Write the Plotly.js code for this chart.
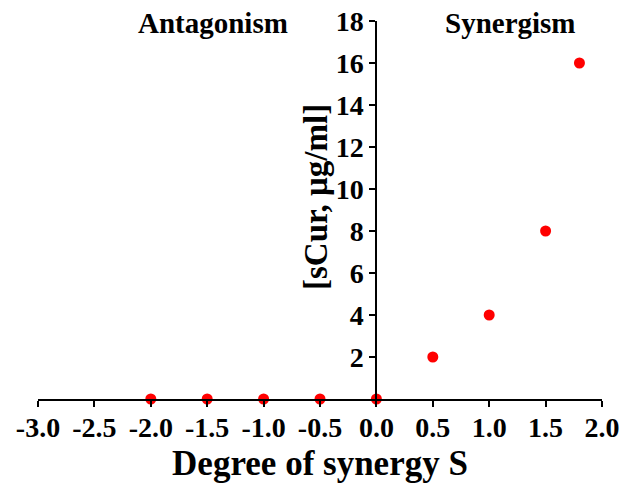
<!DOCTYPE html>
<html><head><meta charset="utf-8">
<script src="https://cdn.plot.ly/plotly-3.0.1.min.js"></script>
<style>html,body{margin:0;padding:0;background:#fff}#chart{width:624px;height:485px}</style>
</head><body><div id="chart"></div>
<script>
const degreeS = [-2.0, -1.5, -1.0, -0.5, 0.0, 0.5, 1.0, 1.5, 1.8];
const sCur = [0, 0, 0, 0, 0, 2, 4, 8, 16];
const xTicks = [-3.0, -2.5, -2.0, -1.5, -1.0, -0.5, 0.0, 0.5, 1.0, 1.5, 2.0];
const yTicks = [2, 4, 6, 8, 10, 12, 14, 16, 18];
const regionLabels = ["Antagonism", "Synergism"];
const regionX = [-1.449, 1.19];
const yTitle = "[sCur, μg/ml]";

const fam = "'Liberation Serif', 'Times New Roman', serif";
const trace = {
  x: degreeS, y: sCur, type: "scatter", mode: "markers",
  marker: {color: "#ff0000", size: 11},
  cliponaxis: false, showlegend: false, hoverinfo: "none"
};
const annotations = regionLabels.map((t, i) => ({
  text: "<b>" + t + "</b>", x: regionX[i], y: 17.92, xref: "x", yref: "y",
  showarrow: false, xanchor: "center", yanchor: "middle",
  font: {family: fam, color: "#000", size: 29}
}));
annotations.push({
  text: "<b>" + yTitle + "</b>", x: -0.53, y: 9.6, xref: "x", yref: "y",
  textangle: -90, showarrow: false, xanchor: "center", yanchor: "middle",
  font: {family: fam, color: "#000", size: 33}
});
const layout = {
  width: 624, height: 485,
  margin: {l: 38, r: 22, t: 21, b: 86},
  paper_bgcolor: "#fff", plot_bgcolor: "#fff",
  font: {family: fam, color: "#000", size: 20},
  xaxis: {
    range: [-3, 2], tickvals: xTicks, ticktext: xTicks.map(v => "<b>" + v.toFixed(1) + "</b>"),
    showgrid: false, zeroline: false, showline: true, linecolor: "#000", linewidth: 2,
    ticks: "outside", ticklen: 6, tickwidth: 2, tickcolor: "#000",
    ticklabelstandoff: -4,
    tickfont: {family: fam, color: "#000", size: 28},
    title: {text: "<b>Degree of synergy S</b>", font: {family: fam, color: "#000", size: 35}, standoff: 9}
  },
  yaxis: {
    range: [0, 18], tickvals: yTicks, ticktext: yTicks.map(v => "<b>" + v + "</b>"),
    anchor: "free", position: 0.6,
    showgrid: false, zeroline: false, showline: true, linecolor: "#000", linewidth: 2,
    ticks: "outside", ticklen: 6, tickwidth: 2, tickcolor: "#000",
    tickfont: {family: fam, color: "#000", size: 28}
  },
  annotations: annotations
};
Plotly.newPlot("chart", [trace], layout, {displayModeBar: false, staticPlot: true});
</script></body></html>
